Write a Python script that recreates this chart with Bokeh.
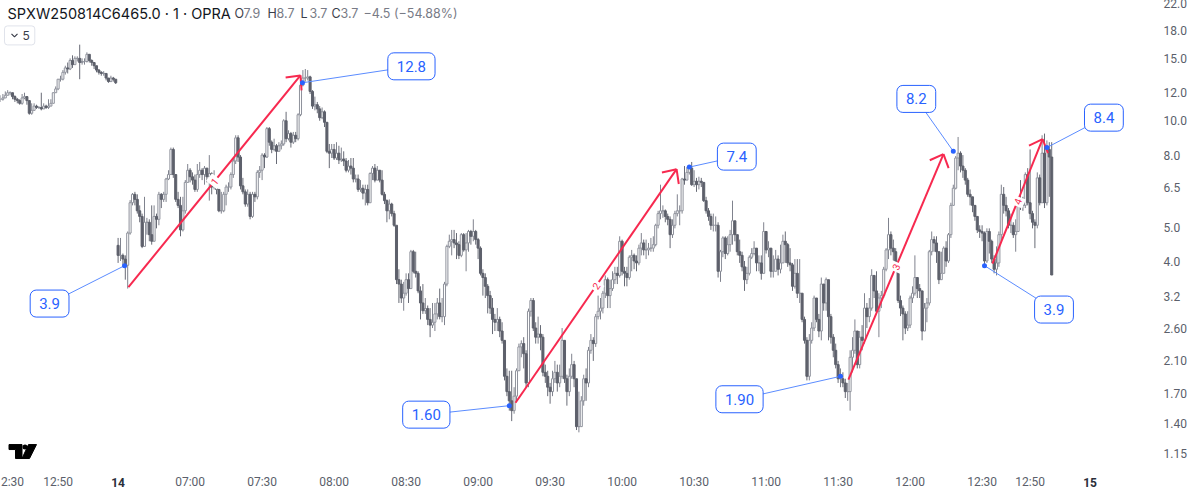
import math
import numpy as np
from bokeh.plotting import figure
from bokeh.layouts import column
from bokeh.models import Range1d, FixedTicker, LinearAxis, Label
from bokeh.embed import file_html
from bokeh.resources import INLINE

# ---------- data: one-minute bars ----------
prior_close = [11.5,11.6,11.8,12.0,12.0,11.7,11.5,11.4,11.2,11.6,11.7,11.4,10.5,10.7,11.0,10.9,10.9,10.8,11.0,10.9,11.0,11.2,12.0,12.3,13.1,13.1,13.7,14.1,14.0,14.8,14.4,15.0,15.0,14.6,14.7,14.7,15.4,14.8,14.6,14.3,13.9,13.7,13.6,13.6,13.2,12.9,13.2,13.1,12.8]
prior_high = [11.8,11.9,12.1,12.2,12.1,12.0,11.8,11.6,11.5,11.9,12.0,11.7,11.4,11.2,11.2,11.1,11.0,12.0,11.2,11.1,11.5,11.5,12.0,12.5,13.1,13.4,13.9,14.3,14.6,15.0,15.3,15.2,15.2,16.4,15.0,15.0,15.6,15.1,14.9,14.6,14.2,14.0,13.8,13.8,13.4,13.1,13.4,13.3,13.0]
prior_low = [11.3,11.4,11.6,11.8,11.8,11.5,11.3,11.2,11.1,11.1,11.5,11.1,10.4,10.4,10.7,10.8,10.8,10.7,10.8,10.8,10.8,11.0,11.3,12.0,12.2,12.9,13.0,13.5,13.6,13.9,14.1,14.6,14.7,13.1,14.4,14.4,14.6,14.6,14.3,14.0,13.7,13.5,13.4,13.4,13.0,12.8,12.9,12.9,12.7]

day_open_first = 4.45
day_close = [
4.17,4.17,4.07,3.91,4.82,5.87,6.2,6.0,5.57,5.37,
4.42,5.17,5.17,4.77,4.57,5.37,5.27,6.2,6.0,6.2,
6.85,7.05,8.3,7.05,6.0,5.77,4.92,5.57,6.7,7.25,
6.95,6.8,6.4,7.05,7.25,7.05,7.35,6.95,7.1,6.5,
6.8,6.4,5.57,5.57,6.2,6.5,6.5,7.05,7.7,8.95,
7.9,6.55,6.3,5.82,6.2,5.37,6.2,6.1,7.15,7.25,
8.0,7.9,9.5,8.7,8.3,8.5,8.2,8.5,8.6,10.0,
8.9,9.2,8.7,9.1,8.9,10.4,12.6,13.2,13.2,13.3,
12.1,11.0,11.1,10.8,10.2,10.6,9.9,8.2,8.1,8.3,
7.85,8.1,7.75,7.8,7.7,7.25,7.45,7.35,6.85,6.85,
6.4,6.45,6.25,6.4,5.87,7.1,7.35,6.8,7.25,6.8,
6.2,5.95,5.57,5.82,5.47,5.07,3.56,3.46,3.16,3.26,
3.56,3.36,4.27,3.76,3.71,3.31,3.06,2.91,2.95,2.75,
2.65,2.7,2.85,3.06,2.8,2.8,3.46,4.42,4.57,4.62,
4.52,4.47,4.17,4.77,4.32,4.52,4.87,4.72,4.87,4.62,
4.37,3.71,3.61,3.41,3.21,2.96,2.75,2.7,2.75,2.55,
2.4,1.9,1.72,1.62,1.52,1.67,1.97,2.3,2.35,2.2,
1.82,2.9,3.11,2.6,2.45,2.5,2.45,1.95,1.9,1.77,
1.72,1.87,1.95,1.82,1.9,2.4,1.87,1.72,1.9,2.05,
1.87,1.37,1.37,1.62,1.87,1.82,2.25,2.4,2.35,2.8,
2.9,2.96,3.26,3.56,3.21,3.36,3.56,3.71,3.66,4.57,
3.76,3.71,3.61,4.12,4.17,4.02,3.97,4.37,4.52,4.32,
4.32,4.37,4.37,4.47,5.07,5.47,5.57,5.57,5.37,5.27,
4.77,5.07,5.47,5.57,5.57,6.85,6.8,7.15,7.35,6.6,
6.75,6.6,6.75,6.7,5.95,5.57,5.37,5.07,5.07,5.07,
3.76,4.27,4.67,4.22,4.47,4.77,5.22,4.77,4.27,4.17,
3.87,3.56,3.71,4.12,4.22,4.37,3.97,3.97,3.71,4.87,
4.32,4.37,3.76,3.76,4.07,3.81,3.97,4.57,4.47,3.97,
3.92,3.41,3.71,3.26,3.26,2.75,2.4,1.9,2.4,2.6,
3.16,2.75,2.55,3.46,3.06,3.56,2.8,2.45,2.25,2.05,
1.87,1.87,1.82,1.72,1.72,2.15,2.25,2.55,2.05,2.45,
2.4,2.96,2.8,2.96,3.66,3.31,2.9,3.16,3.21,3.81,
4.32,4.77,4.37,4.27,3.92,3.11,2.96,2.85,2.6,2.65,
3.16,3.26,3.61,3.36,3.31,2.55,2.96,3.06,4.27,4.62,
4.52,4.27,3.56,3.71,4.37,4.02,4.77,5.77,6.45,7.85,
8.1,7.45,7.25,6.8,6.2,6.1,5.77,5.37,4.92,4.87,
4.82,4.02,4.87,4.57,4.07,3.81,3.97,4.77,6.2,5.77,
5.57,5.07,5.07,4.77,4.87,6.0,5.87,5.77,7.05,5.87,
5.47,5.17,5.07,6.9,5.87,8.1,5.87,8.3,7.9,3.67]
day_high = [
4.67,4.67,4.22,4.17,4.87,5.97,6.25,6.3,6.2,5.77,
5.47,6.1,5.32,5.27,5.77,5.77,5.47,6.3,6.25,6.3,
6.9,7.25,8.4,8.4,7.05,6.3,6.1,6.1,6.8,7.55,
7.35,7.15,7.05,7.55,7.65,7.35,7.45,7.35,8.0,7.15,
7.25,6.8,6.4,6.3,6.3,6.6,6.7,7.15,7.85,9.1,
9.1,8.0,6.9,6.4,6.4,6.3,6.3,6.3,7.25,7.45,
8.1,8.1,9.6,9.6,8.8,8.9,8.6,8.7,8.8,10.1,
10.6,9.4,9.3,9.3,9.3,10.5,12.7,13.9,14.0,13.9,
13.4,12.2,11.7,11.3,11.0,10.9,10.7,9.9,8.6,8.6,
8.6,8.7,8.5,8.4,8.2,7.85,7.75,7.85,7.85,7.05,
7.05,6.8,6.6,6.6,6.6,7.15,7.45,7.55,7.45,7.25,
7.25,6.3,6.0,6.0,5.87,5.57,4.97,3.81,3.56,3.51,
3.71,3.71,4.32,4.32,4.27,3.76,3.41,3.46,3.16,3.01,
2.96,3.06,3.06,3.16,3.36,3.16,3.51,4.47,4.77,4.92,
4.92,4.82,4.57,4.82,4.82,4.82,4.92,4.92,5.27,4.92,
4.67,4.42,3.81,3.71,3.46,3.31,3.16,2.85,2.96,2.8,
2.7,2.4,2.0,1.97,1.97,1.77,2.0,2.35,2.4,2.45,
2.25,2.95,3.16,3.16,2.7,2.8,2.65,2.5,2.05,1.97,
1.82,1.97,2.1,2.05,2.05,2.6,2.4,1.92,2.0,2.2,
2.1,1.87,1.72,1.67,1.92,2.0,2.3,2.5,2.45,2.85,
3.21,3.16,3.31,3.66,3.61,3.56,3.76,3.87,3.87,4.72,
4.62,3.87,3.87,4.17,4.32,4.22,4.17,4.47,4.82,4.62,
4.62,4.52,4.67,4.72,5.12,5.57,6.6,5.77,5.62,5.47,
5.37,5.27,5.57,6.2,5.77,6.9,7.45,7.4,7.45,7.65,
7.25,6.9,6.95,6.9,6.7,6.1,5.67,5.47,5.47,5.37,
5.17,4.32,4.72,4.72,4.72,4.92,5.95,5.17,4.67,4.62,
4.27,4.02,3.87,4.17,4.37,4.57,4.37,4.17,4.17,5.17,
4.87,4.57,4.37,4.17,4.32,4.17,4.47,4.77,4.87,4.52,
4.37,3.97,4.07,4.07,4.07,3.16,2.8,2.45,2.5,2.7,
3.21,3.16,2.85,3.61,3.46,3.61,3.51,2.85,2.5,2.35,
2.1,2.0,1.95,1.87,1.82,2.25,2.45,2.75,2.5,2.55,
2.65,3.26,3.06,3.16,3.81,3.66,3.76,3.26,3.31,3.87,
4.37,5.32,4.87,4.62,4.37,3.97,3.21,3.01,2.9,2.9,
3.21,3.41,4.17,3.61,3.46,3.31,3.06,3.16,4.32,4.87,
4.72,4.72,4.22,4.27,4.42,4.57,4.82,5.87,6.6,7.95,
9.0,8.2,8.0,7.35,6.9,6.4,6.1,5.77,5.37,5.07,
5.07,4.87,4.97,4.97,4.62,4.17,4.42,4.87,6.6,6.5,
6.1,5.67,5.47,5.17,5.27,6.1,6.8,6.1,7.15,7.35,
8.3,5.57,5.27,7.15,7.05,9.1,9.2,8.8,8.7,8.7]
day_low = [
3.97,4.02,3.87,3.56,3.36,4.77,5.77,5.77,5.47,5.17,
4.37,4.42,4.77,4.57,4.47,4.57,4.97,5.07,5.67,5.9,
5.9,6.8,7.05,6.9,5.9,5.67,4.72,4.87,5.47,6.7,
6.7,6.6,6.3,6.3,6.9,6.8,6.6,6.7,5.95,6.2,
6.4,6.2,5.52,5.47,5.52,5.77,6.3,6.4,6.9,7.55,
7.65,6.4,6.2,5.72,5.72,5.27,5.32,5.9,6.0,6.9,
6.8,7.35,7.85,8.5,8.1,8.2,7.55,8.2,8.3,8.5,
8.7,8.8,8.4,8.6,8.7,8.8,10.3,12.5,12.9,13.0,
11.9,10.8,10.7,10.5,10.0,10.1,9.6,8.1,7.35,7.85,
7.75,7.75,7.55,7.65,7.45,7.15,7.15,7.05,6.7,6.7,
6.3,6.3,6.0,5.77,5.77,5.9,6.8,6.7,6.8,6.7,
6.15,5.82,5.17,5.27,5.37,5.02,3.46,3.06,3.06,2.91,
3.21,3.06,3.36,3.71,3.61,3.26,2.75,2.85,2.85,2.65,
2.45,2.6,2.55,2.75,2.75,2.7,2.65,3.41,4.37,4.17,
4.37,4.07,4.07,4.12,4.27,3.76,4.27,4.47,4.57,4.47,
4.07,3.66,3.21,3.16,2.86,2.85,2.5,2.55,2.55,2.45,
2.35,1.85,1.67,1.52,1.42,1.49,1.62,1.97,2.15,2.0,
1.77,1.77,2.8,2.55,2.35,2.35,2.25,1.9,1.82,1.67,
1.59,1.67,1.82,1.72,1.77,1.87,1.82,1.57,1.67,1.87,
1.77,1.34,1.32,1.37,1.57,1.62,1.77,2.2,2.1,2.3,
2.75,2.75,2.86,3.16,2.96,2.96,3.31,3.46,3.46,3.61,
3.66,3.41,3.41,3.56,3.76,3.81,3.76,3.91,4.17,4.17,
4.07,4.17,4.27,4.27,4.42,4.97,5.27,5.32,5.17,5.07,
4.37,4.67,4.97,5.37,5.07,5.47,6.6,6.8,7.05,6.55,
6.5,6.3,6.4,6.5,5.9,5.47,5.22,4.92,4.87,4.87,
3.61,3.51,4.12,4.07,4.17,4.27,4.47,4.57,4.17,3.97,
3.76,3.31,3.46,3.66,4.07,4.17,3.76,3.76,3.56,3.71,
4.22,4.12,3.61,3.61,3.81,3.66,3.71,3.97,3.97,3.87,
3.76,3.31,3.36,3.16,3.06,2.7,2.35,1.85,1.85,2.35,
2.55,2.7,2.45,2.4,2.91,2.91,2.4,2.35,2.15,2.0,
1.82,1.77,1.77,1.65,1.62,1.52,1.95,2.2,2.0,2.0,
2.25,2.35,2.6,2.7,2.91,3.16,2.85,2.45,2.96,3.16,
3.76,4.07,4.17,3.92,3.76,3.06,2.81,2.4,2.5,2.55,
2.6,3.06,3.21,3.16,3.16,2.4,2.6,2.7,3.01,4.17,
4.27,3.97,3.46,3.56,3.76,3.87,3.97,4.67,5.77,6.4,
7.25,7.15,6.9,6.6,6.1,5.77,5.52,5.22,4.82,4.67,
4.57,3.92,3.97,4.22,3.97,3.71,3.66,3.87,4.57,5.47,
5.37,4.97,4.82,4.67,4.27,4.87,5.6,5.57,5.67,5.77,
5.27,4.97,4.37,4.97,5.77,7.9,5.67,5.77,6.1,3.67]

price_ticks = [22.0,18.0,15.0,12.0,10.0,8.0,6.5,5.0,4.0,3.2,2.6,2.1,1.7,1.4,1.15]
price_tick_labels = ["22.0","18.0","15.0","12.0","10.0","8.0","6.5","5.0","4.0","3.2","2.60","2.10","1.70","1.40","1.15"]
time_ticks = [-44,-25,30,60,90,120,150,180,210,240,270,300,330,360,380]
time_tick_labels = ["2:30","12:50","07:00","07:30","08:00","08:30","09:00","09:30","10:00","10:30","11:00","11:30","12:00","12:30","12:50"]
day_ticks = [0,405]
day_tick_labels = ["14","15"]

callout_bar = [2.7,76.8,163,238,301,348,387,361]
callout_price = [3.9,12.8,1.57,7.4,1.9,8.2,8.4,3.9]
callout_text = ["3.9","12.8","1.60","7.4","1.90","8.2","8.4","3.9"]
callout_dx = [-75,109,-83,47.5,-101,-37,57,69.5]
callout_dy = [38,-16.5,9,-10.5,23,-52.5,-30,44]

arrow_bar0 = [4.3,165.6,304.3,364.3]
arrow_price0 = [3.39,1.60,1.86,3.95]
arrow_bar1 = [76.0,232.7,343.9,385.2]
arrow_price1 = [13.43,7.3,8.05,8.87]
arrow_text = ["1","2","3","4"]

# ---------- scales ----------
BAR_PX, PX_PER_LOG, X0_PX, Y15_PX = 2.4, 154.2, 117.6, 58.0
FRAME_R, FRAME_T, FRAME_B = 1158, -2, 470
def sx(i): return X0_PX + BAR_PX * i
def sy(p): return Y15_PX + PX_PER_LOG * math.log(15.0 / p)
def ix(px): return (px - X0_PX) / BAR_PX
def py(y): return 15.0 * math.exp(-(y - Y15_PX) / PX_PER_LOG)

p = figure(width=1197, height=493, margin=(-2, 0, 0, 0), output_backend="svg", toolbar_location=None,
           y_axis_type="log", y_axis_location="right",
           x_range=Range1d(ix(0), ix(FRAME_R)), y_range=Range1d(py(FRAME_B), py(FRAME_T)),
           min_border_left=0, min_border_top=0, min_border_right=1197 - FRAME_R, min_border_bottom=21,
           background_fill_color="#ffffff", border_fill_color="#ffffff", outline_line_color=None)
p.grid.visible = False

LABEL_COLOR = "#5b5f6b"
p.yaxis.ticker = FixedTicker(ticks=price_ticks)
p.yaxis.major_label_overrides = {t: s for t, s in zip(price_ticks, price_tick_labels)}
p.xaxis.ticker = FixedTicker(ticks=time_ticks)
p.xaxis.major_label_overrides = {t: s for t, s in zip(time_ticks, time_tick_labels)}
for ax in (p.xaxis[0], p.yaxis[0]):
    ax.axis_line_color = None
    ax.major_tick_line_color = None
    ax.minor_tick_line_color = None
    ax.major_tick_out = 0
    ax.major_tick_in = 0
    ax.major_label_text_font = "Roboto"
    ax.major_label_text_font_size = "12px"
    ax.major_label_text_color = LABEL_COLOR
p.yaxis.major_label_standoff = 5
p.xaxis.major_label_standoff = 5

day_axis = LinearAxis(ticker=FixedTicker(ticks=day_ticks),
                      major_label_overrides={t: s for t, s in zip(day_ticks, day_tick_labels)},
                      axis_line_color=None, major_tick_line_color=None, minor_tick_line_color=None,
                      major_tick_out=0, major_tick_in=0, major_label_standoff=-14,
                      major_label_text_font="Roboto", major_label_text_font_size="12px",
                      major_label_text_font_style="bold", major_label_text_color="#2a2e39")
p.add_layout(day_axis, "below")

# ---------- candles ----------
closes = np.array(prior_close + day_close)
highs = np.array(prior_high + day_high)
lows = np.array(prior_low + day_low)
bars = np.arange(len(prior_close)) - len(prior_close)
bars = np.concatenate([bars, np.arange(len(day_close))])
opens = np.concatenate([[closes[0]], closes[:-1]])
opens[len(prior_close)] = day_open_first
up = closes >= opens

UP_LINE, DOWN = "#8f929c", "#5d606b"
p.segment(bars[up], highs[up], bars[up], lows[up], line_color="#80838e", line_width=1)
p.segment(bars[~up], highs[~up], bars[~up], lows[~up], line_color="#686b76", line_width=1)
p.vbar(bars[up], 0.85, np.maximum(opens, closes)[up], np.minimum(opens, closes)[up],
       fill_color="#ffffff", line_color=UP_LINE, line_width=1)
p.vbar(bars[~up], 0.85, np.maximum(opens, closes)[~up], np.minimum(opens, closes)[~up],
       fill_color=DOWN, line_color=DOWN, line_width=1)

# ---------- arrows ----------
RED = "#f7294f"
for b0, p0, b1, p1, t in zip(arrow_bar0, arrow_price0, arrow_bar1, arrow_price1, arrow_text):
    x0, y0, x1, y1 = sx(b0), sy(p0), sx(b1), sy(p1)
    p.line([b0, b1], [p0, p1], line_color=RED, line_width=2)
    ang = math.atan2(y0 - y1, x0 - x1)
    for d in (-0.75, 0.75):
        xa, ya = x1 + 15 * math.cos(ang + d), y1 + 15 * math.sin(ang + d)
        p.line([ix(xa), b1], [py(ya), p1], line_color=RED, line_width=2)
    mx, my = (x0 + x1) / 2, (y0 + y1) / 2
    p.add_layout(Label(x=ix(mx), y=py(my), text=t, text_color=RED, text_font="Roboto", text_font_size="10px",
                       text_align="center", text_baseline="middle", angle=math.atan2(y0 - y1, x1 - x0),
                       background_fill_color="#ffffff", padding=(2, 3)))

# ---------- callouts ----------
BLUE = "#2962ff"
for b, q, dx, dy in zip(callout_bar, callout_price, callout_dx, callout_dy):
    cx, cy = sx(b) + dx, sy(q) + dy
    p.line([b, ix(cx)], [q, py(cy)], line_color="#5b8cff", line_width=1)
p.scatter(callout_bar, callout_price, size=5, color=BLUE, line_width=0)
for b, q, dx, dy, t in zip(callout_bar, callout_price, callout_dx, callout_dy, callout_text):
    cx, cy = sx(b) + dx, sy(q) + dy
    p.add_layout(Label(x=ix(cx), y=py(cy), text=t, text_color=BLUE, text_font="Roboto", text_font_size="15px",
                       text_align="center", text_baseline="middle", background_fill_color="#ffffff",
                       border_line_color=BLUE, border_line_width=1, border_radius=6, padding=(9, 8)))

# ---------- header ----------
def head(px, py_, text, color, size="14px", font="Inter", style="normal", align="left"):
    p.add_layout(Label(x=ix(px), y=py(py_), text=text, text_color=color, text_font=font, text_font_size=size,
                       text_font_style=style, text_align=align, text_baseline="middle"))

DARK, GREY = "#131722", "#787b86"
head(7, 13, "SPXW250814C6465.0 · 1 · OPRA", DARK, "14.5px")
for xx, letter, val in [(234, "O", "7.9"), (267, "H", "8.7"), (300, "L", "3.7"), (331, "C", "3.7")]:
    head(xx, 13, letter, "#3a3e4a", "12.5px")
    head(xx + 9, 13, val, GREY, "12.5px")
head(363, 13, "\u22124.5 (\u221254.88%)", GREY, "12.5px")

p.add_layout(Label(x=ix(4), y=py(35), text="5", text_color="#3a3e4a", text_font="Inter", text_font_size="12px",
                   text_align="left", text_baseline="middle", background_fill_color=None,
                   border_line_color="#e0e3eb", border_line_width=1, border_radius=3, padding=(18, 5, 5, 5)))
p.line([ix(11), ix(14), ix(17)], [py(33.5), py(36.5), py(33.5)], line_color="#3a3e4a", line_width=1.2)

# ---------- logo ----------
p.patch([ix(v) for v in [8.5,21.5,21.5,15,15,8.5]], [py(v) for v in [445,445,459,459,450,450]], color="#000000")
p.patch([ix(v) for v in [28,36,29,21.5]], [py(v) for v in [445,445,459,459]], color="#000000")
p.scatter([ix(24.5)], [py(447.5)], size=5, color="#000000", line_width=0)

# ---------- settings icon in its own small figure over the corner ----------
gear = figure(width=18, height=18, output_backend="svg", toolbar_location=None, margin=(0, 0, 0, 0),
              styles={"position": "fixed", "left": "1168px", "top": "473px", "z-index": "100"},
              x_axis_type=None, y_axis_type=None, x_range=Range1d(-9, 9), y_range=Range1d(-9, 9),
              min_border=0, outline_line_color=None, background_fill_color="#ffffff", border_fill_color="#ffffff")
gear.scatter([0.0], [0.0], marker="hex", size=14, fill_color="#ffffff", line_color=LABEL_COLOR, line_width=1)
gear.scatter([0.0], [0.0], marker="circle", size=5, fill_color="#ffffff", line_color=LABEL_COLOR, line_width=1)

open("out.html", "w").write(file_html(column(p, gear, spacing=0), INLINE))
